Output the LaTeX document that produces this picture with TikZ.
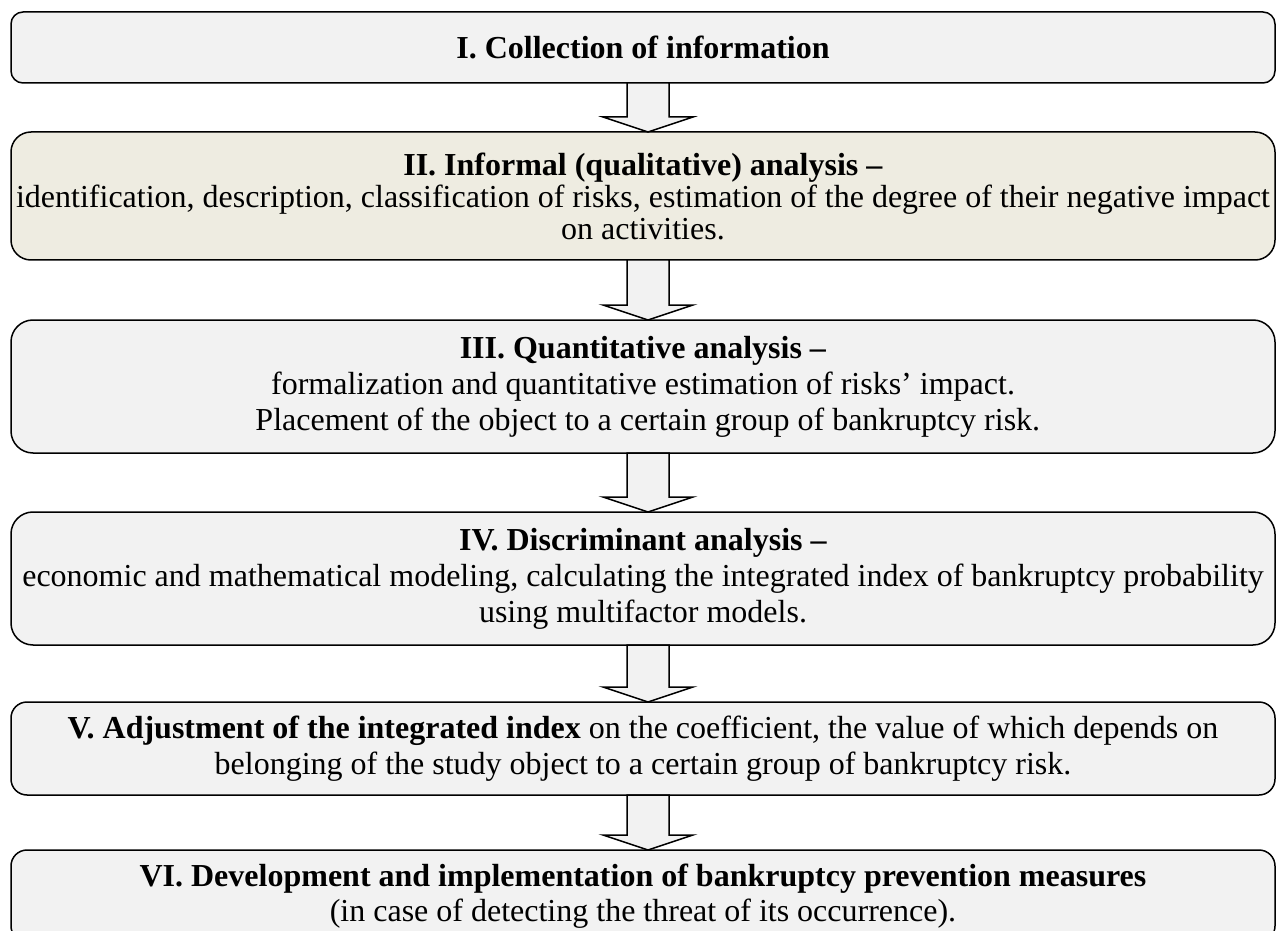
\documentclass[tikz,border=0pt]{standalone}
\usepackage{fontspec}
\setmainfont{Liberation Serif}
\usetikzlibrary{positioning,calc}
\definecolor{boxgray}{HTML}{F2F2F2}
\definecolor{boxtan}{HTML}{EEECE1}
\newcommand{\stagearrow}[2]{%
  \draw[stagearrow] ($(#1.south)+(-16,0)$) -- ($(#2.north)+(-16,-15)$)
    -- ($(#2.north)+(-40,-15)$) -- ($(#2.north)+(5,0)$)
    -- ($(#2.north)+(50,-15)$) -- ($(#2.north)+(26,-15)$)
    -- ($(#1.south)+(26,0)$) -- cycle;}
\tikzset{
  stage/.style={draw=black, line width=0.75pt, fill=boxgray, rounded corners=#1,
    minimum width=632pt, inner xsep=1pt, inner ysep=0pt, outer sep=0pt,
    align=center, font=\fontsize{16}{18}\selectfont},
  stage/.default=9pt,
  stagearrow/.style={draw=black, line width=0.75pt, fill=boxgray, line join=miter},
}

\begin{document}
\begin{tikzpicture}[x=0.5pt, y=-0.5pt]
  \useasboundingbox (0,0) rectangle (1276,931);
  \clip (0,0) rectangle (1276,931);

  \node[stage=6pt, minimum height=35.5pt] (collect) at (643,47.5)
    {\textbf{I. Collection of information}};
  \node[stage=10pt, fill=boxtan, minimum height=64pt,
        font=\fontsize{16}{16}\selectfont, below=24.5pt of collect] (informal)
    {\textbf{II. Informal (qualitative) analysis –}\\
     identification, description, classification of risks, estimation of the degree of their negative impact\\
     on activities.};
  \node[stage=11pt, minimum height=66.5pt, below=30pt of informal] (quant)
    {\textbf{III. Quantitative analysis –}\\
     formalization and quantitative estimation of risks’ impact.\\
     \hspace*{0.3em}Placement of the object to a certain group of bankruptcy risk.};
  \node[stage=11pt, minimum height=66.5pt, below=29.5pt of quant] (discrim)
    {\textbf{IV. Discriminant analysis –}\\
     economic and mathematical modeling, calculating the integrated index of bankruptcy probability\\
     using multifactor models.};
  \node[stage=8pt, minimum height=46.5pt, below=28.5pt of discrim] (adjust)
    {\textbf{V. Adjustment of the integrated index} on the coefficient, the value of which depends on\\
     belonging of the study object to a certain group of bankruptcy risk.};
  \node[stage=8pt, minimum height=46pt, font=\fontsize{16}{17.5}\selectfont,
        below=27.5pt of adjust] (prevent)
    {\textbf{VI. Development and implementation of bankruptcy prevention measures}\\
     (in case of detecting the threat of its occurrence).};

  % block arrows between the stages
  \stagearrow{collect}{informal}
  \stagearrow{informal}{quant}
  \stagearrow{quant}{discrim}
  \stagearrow{discrim}{adjust}
  \stagearrow{adjust}{prevent}
\end{tikzpicture}
\end{document}
